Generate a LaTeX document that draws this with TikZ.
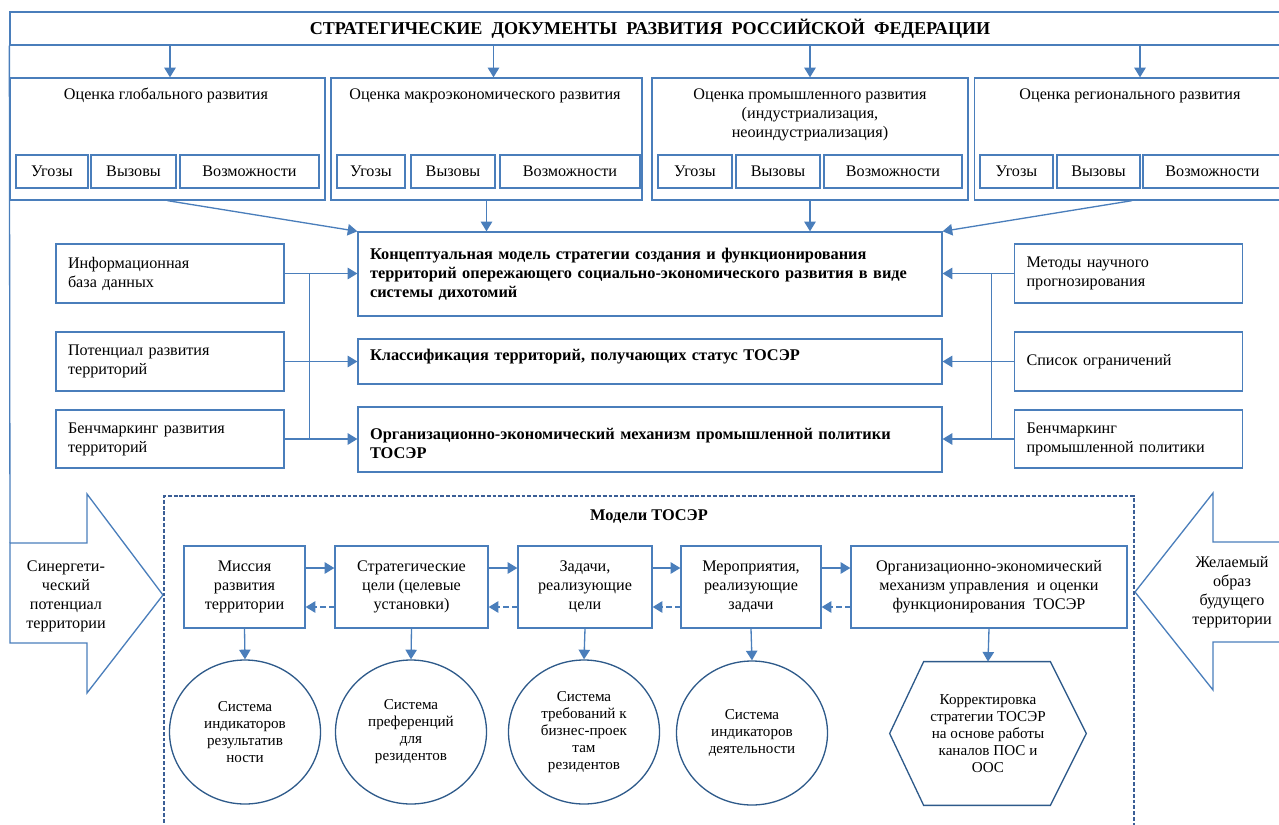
\documentclass[tikz,border=0pt]{standalone}
\usepackage{fontspec}
\setmainfont{Liberation Serif}
\usepackage{tikz}
\usetikzlibrary{arrows.meta, calc, shapes.geometric}
\newcommand{\px}{0.02cm}
\newcommand{\mainfnt}{\fontsize{9.2}{10.8}\selectfont}
\newcommand{\smallfnt}{\fontsize{8.6}{9.7}\selectfont}
\newcommand{\boldfnt}{\fontsize{9.3}{10.8}\selectfont\bfseries}
\newcommand{\titlefnt}{\fontsize{10.3}{12}\selectfont\bfseries}
\definecolor{boxblue}{HTML}{4A7EBB}
\definecolor{darkblue}{HTML}{3B5E96}
\definecolor{circblue}{HTML}{2E5A8A}
\tikzstyle{box} = [rectangle, draw=boxblue, line width=0.75pt, inner sep=0pt, align=center, font=\mainfnt]
\tikzstyle{evalbox} = [box, minimum height=122*\px]
\tikzstyle{subbox} = [box, minimum height=33*\px]
\tikzstyle{sidebox} = [box, align=left, text width=4.08cm, inner xsep=0.24cm]
\tikzstyle{centerbox} = [box, align=left, text width=11.2cm, inner xsep=0.24cm, font=\boldfnt]
\tikzstyle{procbox} = [box, minimum height=82*\px]
\tikzstyle{circ} = [ellipse, draw=circblue, line width=0.75pt, inner sep=0pt, minimum width=151*\px, minimum height=144*\px, align=center, font=\smallfnt]
\tikzstyle{txt} = [inner sep=0pt, align=center, font=\mainfnt]
\tikzstyle{line} = [draw=boxblue, line width=0.75pt]
\tikzstyle{arrow} = [line, -{Triangle[length=5.5pt,width=6.5pt]}]
\tikzstyle{backarrow} = [arrow, dash pattern=on 3pt off 2pt]
\tikzstyle{bigarrow} = [line, line join=miter]
\tikzstyle{frame} = [draw=darkblue, line width=0.75pt, dash pattern=on 2.2pt off 1.1pt]

\begin{document}
\begin{tikzpicture}[x=0.02cm, y=-0.02cm]

        \useasboundingbox (0,0) rectangle (1279,825) ;
        \clip (0,0) rectangle (1279,825) ;

        \node (docs) [box, font=\titlefnt, minimum width=1280*\px, minimum height=33*\px]
            at (650,28.5) {СТРАТЕГИЧЕСКИЕ \ ДОКУМЕНТЫ \ РАЗВИТИЯ \ РОССИЙСКОЙ \ ФЕДЕРАЦИИ} ;

        % the four assessments
        \node (glob)   [evalbox, minimum width=315*\px] at (167.5,139) {} ;
        \node (macro)  [evalbox, minimum width=311*\px] at (486.5,139) {} ;
        \node (indus)  [evalbox, minimum width=316*\px] at (810,139) {} ;
        \node (region) [evalbox, minimum width=315*\px] at (1132,139) {} ;

        \node (globt)   [txt, anchor=north] at (166,88) {Оценка глобального развития} ;
        \node (macrot)  [txt, anchor=north] at (485,88) {Оценка макроэкономического развития} ;
        \node (indust)  [txt, anchor=north] at (810,88)
            {Оценка промышленного развития\\(индустриализация,\\неоиндустриализация)} ;
        \node (regiont) [txt, anchor=north] at (1130,88) {Оценка регионального развития} ;

        \node (globu) [subbox, minimum width=72*\px]  at (52,171.5)  {Угозы} ;
        \node (globv) [subbox, minimum width=85*\px]  at (133.5,171.5) {Вызовы} ;
        \node (globp) [subbox, minimum width=139*\px] at (249.5,171.5) {Возможности} ;

        \node (macrou) [subbox, minimum width=68*\px]  at (371,171.5) {Угозы} ;
        \node (macrov) [subbox, minimum width=84*\px]  at (453,171.5) {Вызовы} ;
        \node (macrop) [subbox, minimum width=140*\px] at (570,171.5) {Возможности} ;

        \node (indusu) [subbox, minimum width=74*\px]  at (695,171.5) {Угозы} ;
        \node (indusv) [subbox, minimum width=84*\px]  at (778,171.5) {Вызовы} ;
        \node (indusp) [subbox, minimum width=138*\px] at (893,171.5) {Возможности} ;

        \node (regionu) [subbox, minimum width=73*\px]  at (1016.5,171.5) {Угозы} ;
        \node (regionv) [subbox, minimum width=83*\px]  at (1098.5,171.5) {Вызовы} ;
        \node (regionp) [subbox, minimum width=139*\px] at (1212.5,171.5) {Возможности} ;

        \draw [arrow] ([xshift=0.05cm]docs.south -| glob.north) -- ([xshift=0.05cm]glob.north) ;
        \draw [arrow] ([xshift=0.14cm]docs.south -| macro.north) -- ([xshift=0.14cm]macro.north) ;
        \draw [arrow] (docs.south -| indus.north) -- (indus.north) ;
        \draw [arrow] ([xshift=0.16cm]docs.south -| region.north) -- ([xshift=0.16cm]region.north) ;

        % strategy blocks in the middle
        \node (concept) [centerbox, minimum height=84*\px] at (650,274)
            {Концептуальная модель стратегии создания и функционирования\\
             территорий опережающего социально-экономического развития в виде\\
             системы дихотомий} ;
        \node (classif) [centerbox, minimum height=45*\px, text depth=7.8pt] at (650,361.5)
            {Классификация территорий, получающих статус ТОСЭР} ;
        \node (orgmech) [centerbox, minimum height=65*\px, text depth=6.8pt] at (650,439.5)
            {Организационно-экономический механизм промышленной политики\\ТОСЭР} ;

        \draw [arrow] (glob.south) -- (concept.north west) ;
        \draw [arrow] (macro.south) -- (macro.south |- concept.north) ;
        \draw [arrow] (indus.south) -- (indus.south |- concept.north) ;
        \draw [arrow] (region.south) -- (concept.north east) ;

        % inputs on the left
        \node (info)      [sidebox, minimum height=59*\px] at (170,273.5) {Информационная\\база данных} ;
        \node (potential) [sidebox, minimum height=59*\px] at (170,361.5) {Потенциал развития\\территорий} ;
        \node (benchdev)  [sidebox, minimum height=58*\px] at (170,439) {Бенчмаркинг развития\\территорий} ;

        \coordinate (lbus) at ($(info.east)!0.34!(concept.west)$) ;
        \draw [line] (lbus |- info.east) -- (lbus |- benchdev.east) ;
        \draw [arrow] (info.east) -- (info.east -| concept.west) ;
        \draw [arrow] (potential.east) -- (potential.east -| classif.west) ;
        \draw [arrow] (benchdev.east) -- (benchdev.east -| orgmech.west) ;

        % inputs on the right
        \node (method)   [sidebox, minimum height=59*\px] at (1128.5,273.5) {Методы научного\\прогнозирования} ;
        \node (limits)   [sidebox, minimum height=59*\px] at (1128.5,361.5) {Список ограничений} ;
        \node (benchpol) [sidebox, minimum height=58*\px] at (1128.5,439) {Бенчмаркинг\\промышленной политики} ;

        \coordinate (rbus) at ($(concept.east)!0.69!(method.west)$) ;
        \draw [line] (rbus |- method.west) -- (rbus |- benchpol.west) ;
        \draw [arrow] (method.west) -- (method.west -| concept.east) ;
        \draw [arrow] (limits.west) -- (limits.west -| classif.east) ;
        \draw [arrow] (benchpol.west) -- (benchpol.west -| orgmech.east) ;

        % big side arrows
        \draw [bigarrow] (10,543) -- (87,543) -- (87,494) -- (163,595) -- (87,693) -- (87,643) -- (10,643) -- cycle ;
        \node (synergy) [txt] at (66,596) {Синергети-\\ческий\\потенциал\\территории} ;
        \coordinate (synin) at (10,543) ;
        \draw [line] (docs.south west) -- (synin) ;

        \draw [bigarrow] (1290,542) -- (1213,542) -- (1213,493) -- (1135,592) -- (1213,690) -- (1213,642) -- (1290,642) ;
        \node (future) [txt] at (1232,592) {Желаемый\\образ\\будущего\\территории} ;

        % models of the territory
        \draw [frame] (164,840) -- (164,496) -- (1134,496) -- (1134,840) ;
        \node (modelst) [txt, font=\boldfnt] at (649,517) {Модели ТОСЭР} ;

        \node (mission) [procbox, minimum width=121*\px] at (244.5,587) {Миссия\\развития\\территории} ;
        \node (goals)   [procbox, minimum width=153*\px] at (411.5,587) {Стратегические\\цели (целевые\\установки)} ;
        \node (tasks)   [procbox, minimum width=134*\px] at (585,587) {Задачи,\\реализующие\\цели} ;
        \node (events)  [procbox, minimum width=140*\px] at (751,587) {Мероприятия,\\реализующие\\задачи} ;
        \node (mech)    [procbox, minimum width=276*\px] at (989,587)
            {Организационно-экономический\\механизм управления \ и оценки\\функционирования \ ТОСЭР} ;

        \draw [arrow] ([yshift=0.38cm]mission.east) -- ([yshift=0.38cm]goals.west) ;
        \draw [arrow] ([yshift=0.38cm]goals.east) -- ([yshift=0.38cm]tasks.west) ;
        \draw [arrow] ([yshift=0.38cm]tasks.east) -- ([yshift=0.38cm]events.west) ;
        \draw [arrow] ([yshift=0.38cm]events.east) -- ([yshift=0.38cm]mech.west) ;

        \draw [backarrow] ([yshift=-0.4cm]goals.west) -- ([yshift=-0.4cm]mission.east) ;
        \draw [backarrow] ([yshift=-0.4cm]tasks.west) -- ([yshift=-0.4cm]goals.east) ;
        \draw [backarrow] ([yshift=-0.4cm]events.west) -- ([yshift=-0.4cm]tasks.east) ;
        \draw [backarrow] ([yshift=-0.4cm]mech.west) -- ([yshift=-0.4cm]events.east) ;

        \node (ind1) [circ] at (245,732) {Система\\индикаторов\\результатив\\ности} ;
        \node (pref) [circ] at (411,732) {Система\\преференций\\для\\резидентов} ;
        \node (req)  [circ] at (584,732) {Система\\требований к\\бизнес-проек\\там\\резидентов} ;
        \node (ind2) [circ] at (752,733) {Система\\индикаторов\\деятельности} ;

        \node (corr) [txt, font=\smallfnt, minimum width=196*\px, minimum height=143*\px] at (988,733.5)
            {Корректировка\\стратегии ТОСЭР\\на основе работы\\каналов ПОС и\\ООС} ;
        \draw [draw=circblue, line width=0.75pt] (corr.west) -- ([xshift=0.68cm]corr.north west)
            -- ([xshift=-0.72cm]corr.north east) -- (corr.east)
            -- ([xshift=-0.72cm]corr.south east) -- ([xshift=0.68cm]corr.south west) -- cycle ;

        \draw [arrow] (mission.south) -- (ind1.north) ;
        \draw [arrow] (goals.south) -- (pref.north) ;
        \draw [arrow] (tasks.south) -- (req.north) ;
        \draw [arrow] (events.south) -- (ind2.north) ;
        \draw [arrow] (mech.south) -- (corr.north) ;

\end{tikzpicture}
\end{document}
